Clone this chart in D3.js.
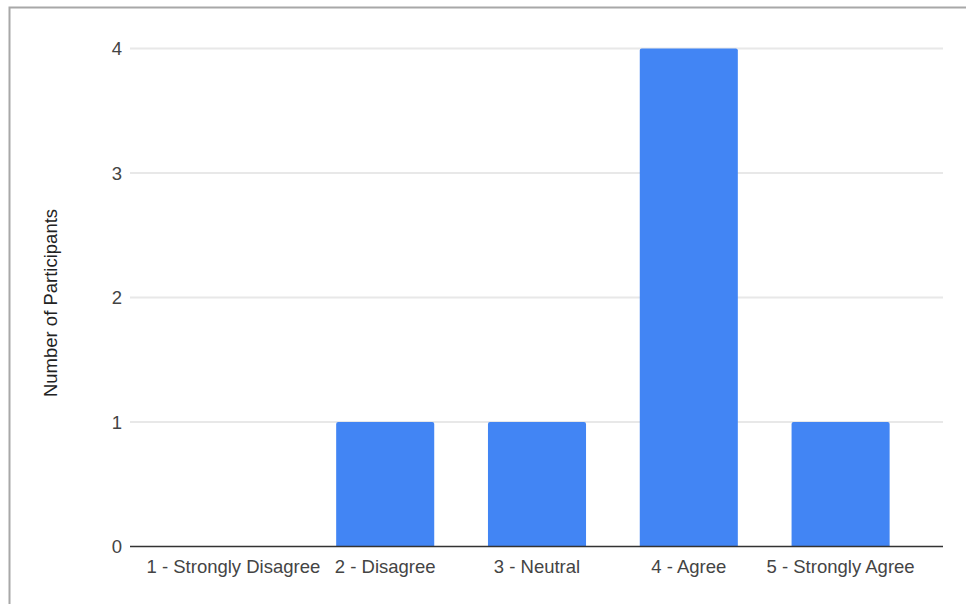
<!DOCTYPE html>
<html>
<head>
<meta charset="utf-8">
<script src="https://cdn.jsdelivr.net/npm/d3@7"></script>
<style>
  html, body { margin: 0; padding: 0; background: #fff; }
  svg { display: block; }
</style>
</head>
<body>
<svg id="chart" width="966" height="604"></svg>
<script>
const categories = ["1 - Strongly Disagree", "2 - Disagree", "3 - Neutral", "4 - Agree", "5 - Strongly Agree"];
const participants = [0, 1, 1, 4, 1];
const yTicks = [0, 1, 2, 3, 4];
const yTitle = "Number of Participants";

const svg = d3.select("#chart");
const font = "Arial, 'Liberation Sans', sans-serif";
const fs = 18.5;

// frame border (top and left)
svg.append("path")
  .attr("d", "M9.5,604 V7.5 H966")
  .attr("fill", "none")
  .attr("stroke", "#a8a8a8")
  .attr("stroke-width", 2);

const y = d3.scaleLinear().domain([0, 4]).range([546.5, 48.5]);
const x = d3.scaleBand().domain(categories).range([157.5, 916.5])
  .paddingInner(0.354).paddingOuter(0.177);
const gridX0 = 130, gridX1 = 943;

// gridlines
svg.append("g").selectAll("line")
  .data(yTicks.filter(d => d !== 0))
  .join("line")
  .attr("x1", gridX0).attr("x2", gridX1)
  .attr("y1", d => y(d)).attr("y2", d => y(d))
  .attr("stroke", "#e8e8e8").attr("stroke-width", 2);

// y axis labels
const yAxis = d3.axisLeft(y).tickValues(yTicks).tickFormat(d3.format("d")).tickSize(0).tickPadding(0);
const gy = svg.append("g").attr("transform", "translate(122,0)").call(yAxis);
gy.select(".domain").remove();
gy.selectAll("text").attr("font-family", font).attr("font-size", fs).attr("fill", "#444").attr("dy", "0.35em");

// bars
const r = 2;
svg.append("g").selectAll("path")
  .data(participants.map((v, i) => ({ c: categories[i], v })))
  .join("path")
  .attr("fill", "#4285f4")
  .attr("d", d => {
    if (d.v <= 0) return "";
    const x0 = x(d.c), w = x.bandwidth(), y0 = y(d.v), y1 = y(0);
    return `M${x0},${y1} V${y0 + r} Q${x0},${y0} ${x0 + r},${y0} H${x0 + w - r} Q${x0 + w},${y0} ${x0 + w},${y0 + r} V${y1} Z`;
  });

// baseline
svg.append("line")
  .attr("x1", gridX0).attr("x2", gridX1)
  .attr("y1", y(0)).attr("y2", y(0))
  .attr("stroke", "#333").attr("stroke-width", 1.5);

// x axis labels
const xAxis = d3.axisBottom(x).tickSize(0).tickPadding(0);
const gx = svg.append("g").attr("transform", `translate(0,${y(0)})`).call(xAxis);
gx.select(".domain").remove();
gx.selectAll("text").attr("font-family", font).attr("font-size", fs).attr("fill", "#444")
  .attr("y", 20.5).attr("dy", "0.35em");

// y title
svg.append("text")
  .attr("transform", "translate(50.5,303) rotate(-90)")
  .attr("text-anchor", "middle")
  .attr("dy", "0.35em")
  .attr("font-family", font).attr("font-size", fs).attr("fill", "#222")
  .text(yTitle);
</script>
</body>
</html>
